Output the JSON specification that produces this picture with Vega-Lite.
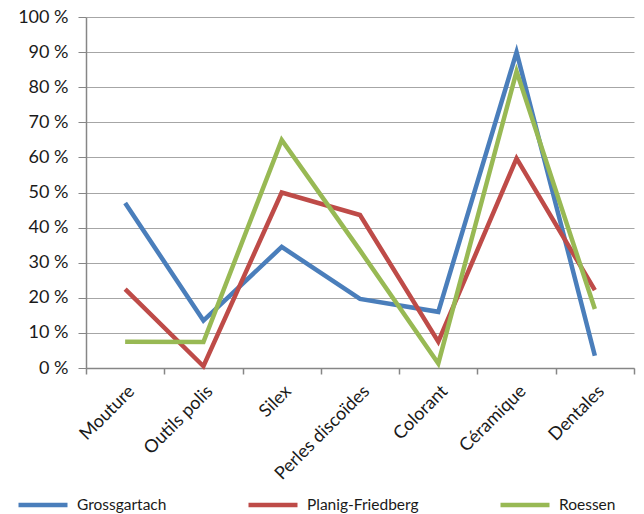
{
  "$schema": "https://vega.github.io/schema/vega-lite/v6.json",
  "width": 548,
  "height": 351,
  "autosize": {"type": "none"},
  "padding": {"left": 86, "top": 17, "right": 10, "bottom": 146},
  "config": {
    "font": "Lato",
    "view": {"stroke": null},
    "axis": {"labelFont": "Lato", "labelColor": "#1a1a1a", "labelFontSize": 18, "domainColor": "#868686", "tickColor": "#868686", "gridColor": "#a6a6a6", "title": null}
  },
  "data": {
    "values": [
      {"cat": "Mouture", "series": "Grossgartach", "v": 47},
      {"cat": "Outils polis", "series": "Grossgartach", "v": 13.5},
      {"cat": "Silex", "series": "Grossgartach", "v": 34.5},
      {"cat": "Perles discoïdes", "series": "Grossgartach", "v": 19.7},
      {"cat": "Colorant", "series": "Grossgartach", "v": 16},
      {"cat": "Céramique", "series": "Grossgartach", "v": 90},
      {"cat": "Dentales", "series": "Grossgartach", "v": 3.5},
      {"cat": "Mouture", "series": "Planig-Friedberg", "v": 22.5},
      {"cat": "Outils polis", "series": "Planig-Friedberg", "v": 0.5},
      {"cat": "Silex", "series": "Planig-Friedberg", "v": 50},
      {"cat": "Perles discoïdes", "series": "Planig-Friedberg", "v": 43.6},
      {"cat": "Colorant", "series": "Planig-Friedberg", "v": 7.5},
      {"cat": "Céramique", "series": "Planig-Friedberg", "v": 59.7},
      {"cat": "Dentales", "series": "Planig-Friedberg", "v": 22.2},
      {"cat": "Mouture", "series": "Roessen", "v": 7.5},
      {"cat": "Outils polis", "series": "Roessen", "v": 7.4},
      {"cat": "Silex", "series": "Roessen", "v": 65},
      {"cat": "Perles discoïdes", "series": "Roessen", "v": 33.5},
      {"cat": "Colorant", "series": "Roessen", "v": 1.3},
      {"cat": "Céramique", "series": "Roessen", "v": 84.5},
      {"cat": "Dentales", "series": "Roessen", "v": 16.8}
    ]
  },
  "mark": {"type": "line", "strokeWidth": 4.5, "strokeJoin": "miter", "strokeCap": "butt"},
  "encoding": {
    "x": {
      "field": "cat", "type": "nominal", "sort": null,
      "scale": {"type": "band", "paddingInner": 0, "paddingOuter": 0},
      "axis": {"labelAngle": -45, "tickBand": "extent", "tickSize": 6, "labelPadding": 8, "domainWidth": 1.5, "tickWidth": 1.5}
    },
    "y": {
      "field": "v", "type": "quantitative",
      "scale": {"domain": [0, 100], "nice": false},
      "axis": {"values": [0, 10, 20, 30, 40, 50, 60, 70, 80, 90, 100], "labelExpr": "datum.value + ' %'", "tickSize": 8, "labelPadding": 10, "grid": true, "domainWidth": 1.5}
    },
    "color": {
      "field": "series", "type": "nominal",
      "scale": {"domain": ["Grossgartach", "Planig-Friedberg", "Roessen"], "range": ["#4a7ebb", "#be4b48", "#98b954"]},
      "legend": {"title": null, "orient": "none", "legendX": -70, "legendY": 461, "direction": "horizontal", "columns": 3, "columnPadding": 72, "symbolType": "stroke", "symbolSize": 2400, "symbolStrokeWidth": 4.5, "labelFontSize": 15.5, "labelFont": "Lato", "labelColor": "#1a1a1a", "labelOffset": 7}
    }
  }
}
